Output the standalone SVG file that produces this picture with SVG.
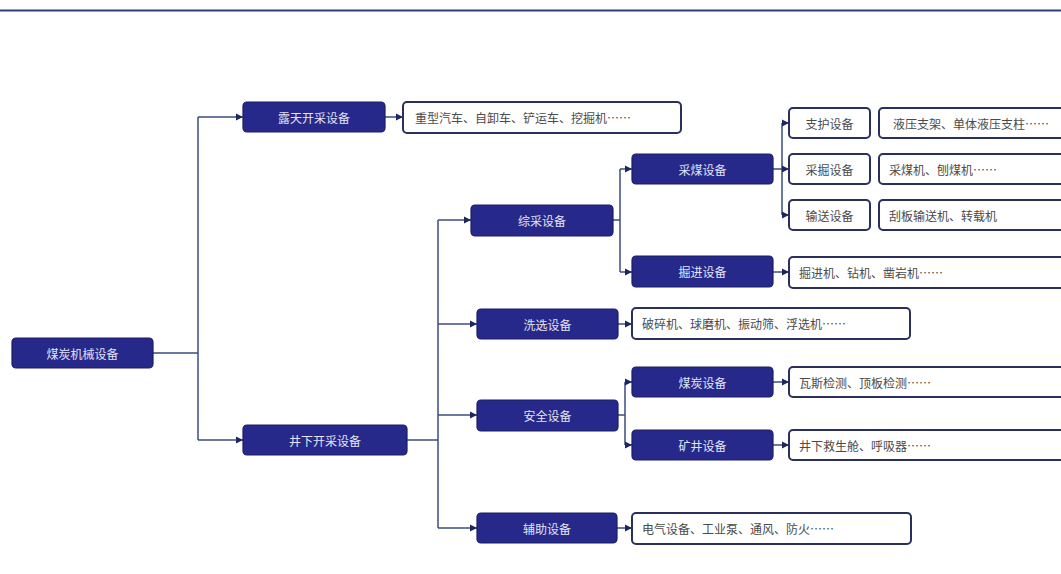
<svg xmlns="http://www.w3.org/2000/svg" width="1061" height="574" viewBox="0 0 1061 574">
<style>
.dk{fill:#27298a;stroke:#1c1e66;stroke-width:1.2}
.wt{fill:#ffffff;stroke:#2b2f5e;stroke-width:2}
.tl{font-family:"Noto Sans CJK SC","Noto Sans CJK JP",sans-serif;font-size:12px;fill:#e4e4f6;text-anchor:middle;dominant-baseline:central}
.td{font-family:"Noto Sans CJK SC","Noto Sans CJK JP",sans-serif;font-size:12px;fill:#4a4a4a;dominant-baseline:central}
.tc{text-anchor:middle}
.cn{fill:none;stroke:#3e4c82;stroke-width:1.5}
</style>
<defs>
<marker id="ah" markerUnits="userSpaceOnUse" markerWidth="8" markerHeight="8" refX="7" refY="4" orient="auto">
<path d="M0,0.5 L7,4 L0,7.5 Z" fill="#1e2660"/>
</marker>
</defs>
<rect x="0" y="0" width="1061" height="574" fill="#ffffff"/>
<line x1="0" y1="10.5" x2="1061" y2="10.5" stroke="#2d3f78" stroke-width="2.2"/>

<g id="connectors">
<path class="cn" d="M153,353 H198 M198,117 V440"/>
<path class="cn" d="M198,117 H243" marker-end="url(#ah)"/>
<path class="cn" d="M198,440 H243" marker-end="url(#ah)"/>
<path class="cn" d="M385,117 H403" marker-end="url(#ah)"/>
<path class="cn" d="M407,440 H438 M438,220 V528"/>
<path class="cn" d="M438,220 H471" marker-end="url(#ah)"/>
<path class="cn" d="M438,324 H477" marker-end="url(#ah)"/>
<path class="cn" d="M438,415 H477" marker-end="url(#ah)"/>
<path class="cn" d="M438,528 H477" marker-end="url(#ah)"/>
<path class="cn" d="M613,220 H620 M620,169 V272"/>
<path class="cn" d="M620,169 H632" marker-end="url(#ah)"/>
<path class="cn" d="M620,272 H632" marker-end="url(#ah)"/>
<path class="cn" d="M773,169 H782 M782,123 V215"/>
<path class="cn" d="M782,123 H789" marker-end="url(#ah)"/>
<path class="cn" d="M782,169 H789" marker-end="url(#ah)"/>
<path class="cn" d="M782,215 H789" marker-end="url(#ah)"/>
<path class="cn" d="M773,272 H789" marker-end="url(#ah)"/>
<path class="cn" d="M618,324 H632" marker-end="url(#ah)"/>
<path class="cn" d="M618,415 H625 M625,382 V445"/>
<path class="cn" d="M625,382 H632" marker-end="url(#ah)"/>
<path class="cn" d="M625,445 H632" marker-end="url(#ah)"/>
<path class="cn" d="M773,382 H789" marker-end="url(#ah)"/>
<path class="cn" d="M773,445 H789" marker-end="url(#ah)"/>
<path class="cn" d="M617,528 H632" marker-end="url(#ah)"/>
</g>

<g id="n-root"><rect class="dk" x="12" y="338" width="141" height="30" rx="4"/><text class="tl" x="82.5" y="353">煤炭机械设备</text></g>
<g id="n-lutian"><rect class="dk" x="243" y="102" width="142" height="30" rx="4"/><text class="tl" x="314" y="117">露天开采设备</text></g>
<g id="n-jingxia"><rect class="dk" x="243" y="425" width="164" height="30" rx="4"/><text class="tl" x="325" y="440">井下开采设备</text></g>
<g id="n-zongcai"><rect class="dk" x="471" y="205" width="142" height="31" rx="4"/><text class="tl" x="542" y="220.5">综采设备</text></g>
<g id="n-xixuan"><rect class="dk" x="477" y="309" width="141" height="30" rx="4"/><text class="tl" x="547.5" y="324">洗选设备</text></g>
<g id="n-anquan"><rect class="dk" x="477" y="400" width="141" height="31" rx="4"/><text class="tl" x="547.5" y="415.5">安全设备</text></g>
<g id="n-fuzhu"><rect class="dk" x="477" y="513" width="140" height="30" rx="4"/><text class="tl" x="547" y="528">辅助设备</text></g>
<g id="n-caimei"><rect class="dk" x="632" y="154" width="141" height="30" rx="4"/><text class="tl" x="702.5" y="169">采煤设备</text></g>
<g id="n-juejin"><rect class="dk" x="632" y="256" width="141" height="31" rx="4"/><text class="tl" x="702.5" y="271.5">掘进设备</text></g>
<g id="n-meitan"><rect class="dk" x="632" y="367" width="141" height="30" rx="4"/><text class="tl" x="702.5" y="382">煤炭设备</text></g>
<g id="n-kuangjing"><rect class="dk" x="632" y="430" width="141" height="30" rx="4"/><text class="tl" x="702.5" y="445">矿井设备</text></g>

<g id="n-zhihu"><rect class="wt" x="789" y="108" width="81" height="30" rx="4"/><text class="td tc" x="829.5" y="123">支护设备</text></g>
<g id="n-caijue"><rect class="wt" x="789" y="154" width="81" height="30" rx="4"/><text class="td tc" x="829.5" y="169">采掘设备</text></g>
<g id="n-shusong"><rect class="wt" x="789" y="200" width="81" height="30" rx="4"/><text class="td tc" x="829.5" y="215">输送设备</text></g>

<g id="w-lutian"><rect class="wt" x="403" y="102" width="278" height="31" rx="4"/><text class="td" x="415" y="117.5">重型汽车、自卸车、铲运车、挖掘机……</text></g>
<g id="w-zhihu"><rect class="wt" x="879" y="108" width="200" height="30" rx="4"/><text class="td" x="893" y="123">液压支架、单体液压支柱……</text></g>
<g id="w-caijue"><rect class="wt" x="879" y="154" width="200" height="30" rx="4"/><text class="td" x="889" y="169">采煤机、刨煤机……</text></g>
<g id="w-shusong"><rect class="wt" x="879" y="200" width="200" height="30" rx="4"/><text class="td" x="889" y="215">刮板输送机、转载机</text></g>
<g id="w-juejin"><rect class="wt" x="789" y="257" width="290" height="31" rx="4"/><text class="td" x="799" y="272.5">掘进机、钻机、凿岩机……</text></g>
<g id="w-xixuan"><rect class="wt" x="632" y="308" width="278" height="31" rx="4"/><text class="td" x="642" y="323.5">破碎机、球磨机、振动筛、浮选机……</text></g>
<g id="w-meitan"><rect class="wt" x="789" y="367" width="290" height="30" rx="4"/><text class="td" x="799" y="382">瓦斯检测、顶板检测……</text></g>
<g id="w-kuangjing"><rect class="wt" x="789" y="430" width="290" height="30" rx="4"/><text class="td" x="799" y="445">井下救生舱、呼吸器……</text></g>
<g id="w-fuzhu"><rect class="wt" x="632" y="513" width="279" height="31" rx="4"/><text class="td" x="642" y="528.5">电气设备、工业泵、通风、防火……</text></g>
</svg>
